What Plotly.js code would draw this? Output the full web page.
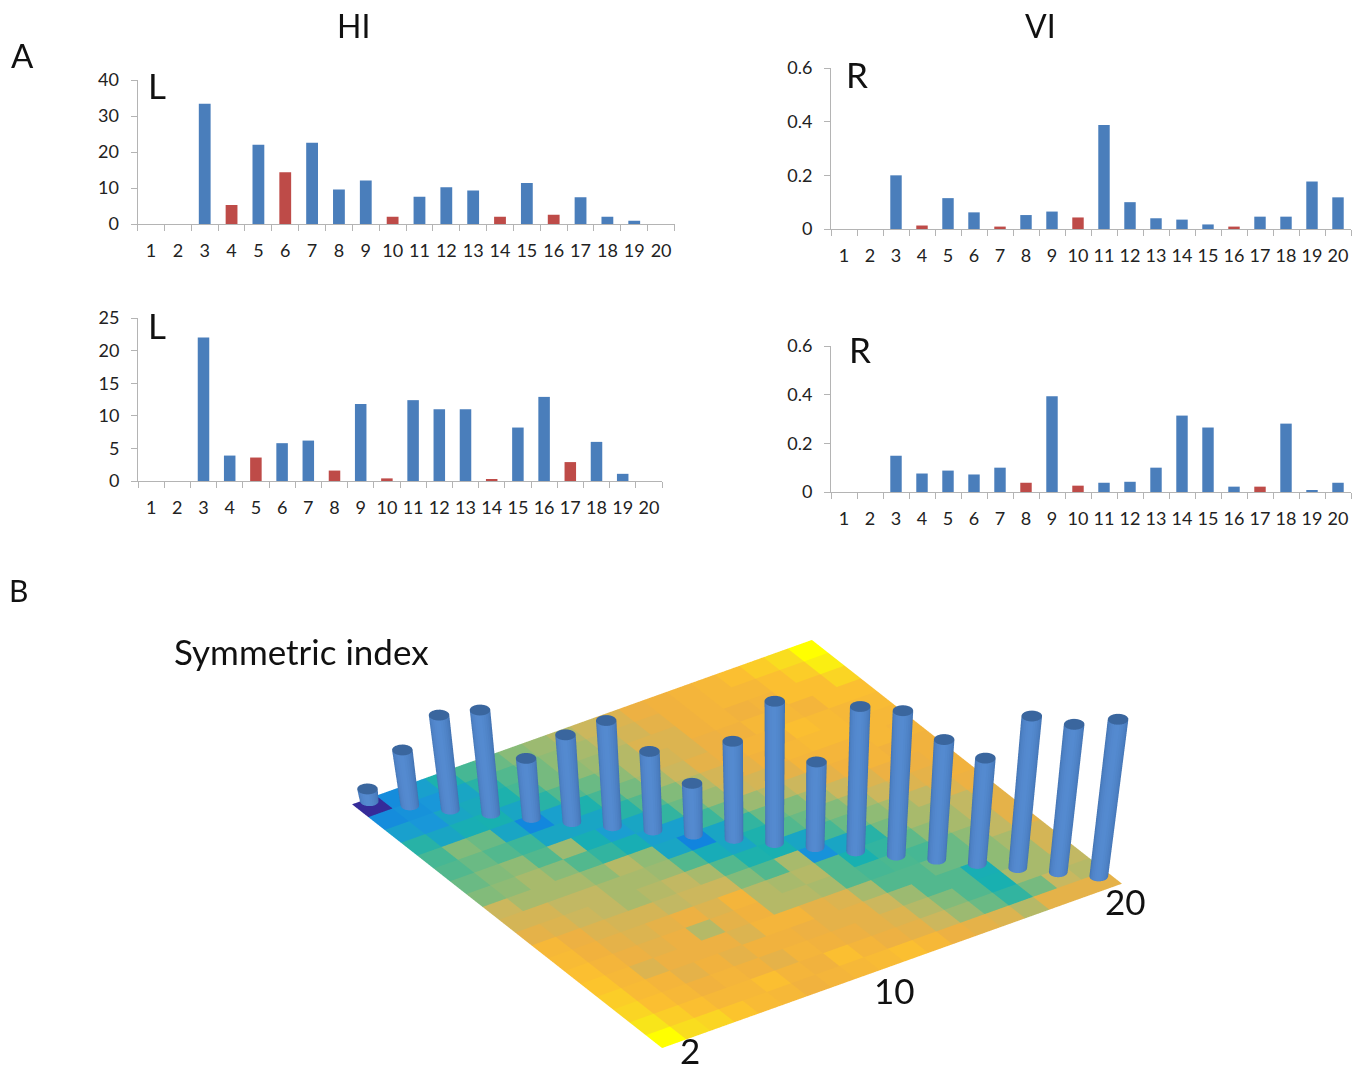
<!DOCTYPE html>
<html><head><meta charset="utf-8">
<script src="https://cdn.plot.ly/plotly-3.0.1.min.js"></script>
<style>html,body{margin:0;padding:0;background:#fff;overflow:hidden}#g{width:1368px;height:1067px}</style>
</head><body><div id="g"></div>
<script>
const categories = ["1","2","3","4","5","6","7","8","9","10","11","12","13","14","15","16","17","18","19","20"];
const hiTop = [0,0,33.4,5.3,22,14.4,22.6,9.6,12.1,2,7.6,10.2,9.3,2,11.4,2.6,7.4,2,0.9,0];
const hiTopRed = ["4","6","10","14","16"];
const hiBottom = [0,0,22,3.9,3.6,5.8,6.2,1.6,11.8,0.4,12.4,11,11,0.25,8.2,12.9,2.9,6,1.1,0];
const hiBottomRed = ["5","8","10","14","17"];
const viTop = [0,0,0.2,0.013,0.115,0.062,0.009,0.052,0.065,0.043,0.388,0.1,0.04,0.035,0.017,0.009,0.046,0.046,0.177,0.118];
const viTopRed = ["4","7","10","16"];
const viBottom = [0,0,0.149,0.076,0.088,0.072,0.1,0.038,0.393,0.026,0.038,0.042,0.1,0.314,0.265,0.022,0.022,0.281,0.005,0.038];
const viBottomRed = ["8","10","17"];
// Symmetric index: cylinder heights for pairs 2..20
const symmetricIndex = [12,54,92,101,58,85,103,77,50,95,138,83,141,141,117,103,148,144,153];
// colours of the plate: lower triangle with diagonal
const lowerRows = [
[2],
[20,22],
[28,24,30],
[38,30,34,35],
[44,54,50,30,18],
[46,50,46,42,30,30],
[50,54,56,46,58,34,27],
[54,56,60,55,46,40,34,28],
[66,60,60,60,56,62,56,30,17],
[68,68,64,64,60,60,58,46,33,30],
[72,70,66,64,60,62,64,60,46,36,35],
[80,74,70,68,68,64,66,66,54,46,60,22],
[82,76,72,70,72,74,70,78,62,60,62,46,35],
[84,78,74,72,74,62,72,76,62,62,60,46,44,45],
[86,80,70,74,74,74,70,78,78,72,70,60,46,46,50],
[88,82,78,72,76,72,76,76,74,72,72,66,58,46,46,34],
[90,84,80,76,78,76,72,78,76,74,72,70,62,54,46,35,60],
[94,88,84,80,80,84,78,76,84,78,74,72,66,58,50,40,52,65],
[100,92,90,86,82,80,76,78,80,82,84,80,74,72,70,62,72,72,72]
];
// and the upper triangle, without diagonal (row a, columns a+1..18)
const upperRows = [
[20,28,36,44,50,55,58,62,66,70,74,76,78,80,84,88,92,100],
[24,30,38,46,52,56,60,64,68,72,76,78,80,80,84,88,96],
[32,36,44,52,56,58,62,70,70,76,78,76,78,84,84,90],
[30,38,46,50,56,62,68,70,74,76,80,80,78,84,84],
[28,36,44,52,60,66,72,74,78,78,84,82,80,82],
[30,38,46,54,62,68,72,76,80,82,82,80,80],
[30,40,50,58,66,68,72,78,78,78,80,78],
[28,42,50,58,62,66,72,76,78,76,76],
[30,40,50,54,60,66,70,74,74,76],
[36,46,50,54,60,66,70,72,76],
[30,44,50,56,60,64,70,74],
[30,38,52,60,60,64,72],
[40,48,56,60,64,72],
[44,50,56,64,72],
[50,56,60,68],
[56,60,68],
[60,64],
[62]
];
const W=1368,H=1067, BLUE="#4a7ebb", RED="#be4b48";
const parula=[[0,"#3b1f8f"],[0.15,"#0f7fe0"],[0.25,"#1a9ad8"],[0.35,"#18b0b0"],[0.45,"#4cb890"],[0.55,"#88bb78"],[0.65,"#c8b860"],[0.75,"#f0b040"],[0.85,"#fcc030"],[0.95,"#f8e818"],[1,"#ffff00"]];

const panels=[
 {vals:hiTop,red:hiTopRed,x0:137.6,x1:674.5,y0:224,y1:80,max:40,dt:10},
 {vals:hiBottom,red:hiBottomRed,x0:138,x1:662,y0:481,y1:318,max:25,dt:5},
 {vals:viTop,red:viTopRed,x0:831,x1:1351,y0:229,y1:68,max:0.6,dt:0.2},
 {vals:viBottom,red:viBottomRed,x0:831,x1:1351,y0:492,y1:346,max:0.6,dt:0.2}
];
const data=[],layout={width:W,height:H,margin:{l:0,r:0,t:0,b:0},paper_bgcolor:"#fff",plot_bgcolor:"rgba(0,0,0,0)",showlegend:false,
 bargap:0.56,font:{family:"Lato, sans-serif",color:"#222"},annotations:[]};
panels.forEach((p,i)=>{
 const s=i?String(i+1):"";
 data.push({type:"bar",x:categories,y:p.vals,xaxis:"x"+s,yaxis:"y"+s,hoverinfo:"skip",
   marker:{color:categories.map(c=>p.red.includes(c)?RED:BLUE),line:{width:0}}});
 const ax={color:"#222",linecolor:"#b4b4b4",tickcolor:"#b4b4b4",linewidth:1,showgrid:false,zeroline:false,ticks:"outside",ticklen:6,tickangle:0,tickfont:{size:18,family:"Lato, sans-serif",color:"#222"}};
 layout["xaxis"+s]=Object.assign({},ax,{type:"category",categoryorder:"array",categoryarray:categories,tickson:"boundaries",range:[-0.5,19.5],domain:[p.x0/W,p.x1/W],anchor:"y"+s,ticklabelstandoff:10,fixedrange:true});
 layout["yaxis"+s]=Object.assign({},ax,{range:[0,p.max],dtick:p.dt,tick0:0,domain:[1-p.y0/H,1-p.y1/H],anchor:"x"+s,ticklabelstandoff:8,fixedrange:true,showline:true});
});
[["HI",353,26,32],["VI",1040,26,32],["A",22,55,33],["B",18,590,30],["L",157,85,35],["L",157,325,35],["R",857,74,35],["R",860,349,35],
 ["Symmetric index",301,651,35],["20",1125,901,35],["10",894,990,35],["2",690,1050,35]].forEach(t=>{
 layout.annotations.push({text:t[0],x:t[1]/W,y:1-t[2]/H,xref:"paper",yref:"paper",xanchor:"center",yanchor:"middle",showarrow:false,font:{size:t[3],family:"Lato, sans-serif",color:"#111"}});
});

// coloured plate: one quad per matrix cell, 19 x 19
const n=19, px=[],py=[],pz=[],pi=[],pj=[],pk=[],pint=[];
const val=(a,b)=>a>=b?lowerRows[a][b]:upperRows[a][b-a-1];
for(let a=0;a<n;a++)for(let b=0;b<n;b++){
 const v=px.length,x0=a+1.5,y0=b+1.5;
 px.push(x0,x0+1,x0+1,x0);py.push(y0,y0,y0+1,y0+1);pz.push(0,0,0,0);
 pi.push(v,v);pj.push(v+1,v+2);pk.push(v+2,v+3);
 pint.push(val(a,b),val(a,b));
}
const flat={ambient:1,diffuse:0,specular:0,fresnel:0,roughness:1};
data.push({type:"mesh3d",x:px,y:py,z:pz,i:pi,j:pj,k:pk,intensity:pint,intensitymode:"cell",colorscale:parula,cmin:0,cmax:100,showscale:false,lighting:flat,hoverinfo:"skip",flatshading:true});

// cylinders standing on the matrix diagonal
const cx=[],cy=[],cz=[],ci=[],cj=[],ck=[],cf=[];
const rad=0.32, sides=28, rr=[0.559,0.830], hh=[0.829,-0.559], offX=-0.33, offY=0.1;
function mix(a,b,t){return a.map((v,i)=>Math.round(v+(b[i]-v)*t));}
symmetricIndex.forEach((h,m)=>{
 const k=m+2, bx=k+offX, by=k+offY, lean=h*0.000534*(k-11.9), tx=bx+lean*rr[0], ty=by+lean*rr[1], v0=cx.length, rt=rad*1.1;
 for(let s=0;s<sides;s++){
  const t=2*Math.PI*s/sides, c=Math.cos(t), d=Math.sin(t);
  cx.push(bx+rad*c, tx+rt*c); cy.push(by+rad*d, ty+rt*d); cz.push(0,h);
 }
 const topC=cx.length; cx.push(tx);cy.push(ty);cz.push(h);
 for(let s=0;s<sides;s++){
  const a=v0+2*s,b=v0+2*((s+1)%sides),t=2*Math.PI*(s+0.5)/sides;
  const nx=Math.cos(t),ny=Math.sin(t),f=nx*hh[0]+ny*hh[1],g=nx*rr[0]+ny*rr[1];
  const sh=Math.max(0,Math.min(1,Math.pow(Math.max(f,0),0.7)*(1-0.2*Math.max(g,0))));
  const col="rgb("+mix([60,106,168],[84,138,208],sh).join(",")+")";
  ci.push(a,a+1);cj.push(b,b);ck.push(a+1,b+1);cf.push(col,col);
  ci.push(topC);cj.push(a+1);ck.push(b+1);cf.push("rgb(58,102,158)");
 }
});
data.push({type:"mesh3d",x:cx,y:cy,z:cz,i:ci,j:cj,k:ck,facecolor:cf,lighting:flat,hoverinfo:"skip",flatshading:true});

const A=2.749, az=0.3025*A, dist=6, dir=[0.703,-0.474,0.53];
const noAxis={visible:false,showbackground:false,showgrid:false,zeroline:false,showspikes:false};
layout.scene={domain:{x:[(737-437)/W,(737+437)/W],y:[0,446/H]},bgcolor:"rgba(0,0,0,0)",
 xaxis:Object.assign({},noAxis,{range:[0.5,21.5]}),yaxis:Object.assign({},noAxis,{range:[0.5,21.5]}),zaxis:Object.assign({},noAxis,{range:[0,153]}),
 aspectmode:"manual",aspectratio:{x:A,y:A,z:az},
 camera:{projection:{type:"orthographic"},up:{x:0,y:0,z:1},center:{x:0,y:0,z:-az/2},eye:{x:dist*dir[0],y:dist*dir[1],z:-az/2+dist*dir[2]}}};
Plotly.newPlot("g",data,layout,{displayModeBar:false,responsive:false});
</script></body></html>
